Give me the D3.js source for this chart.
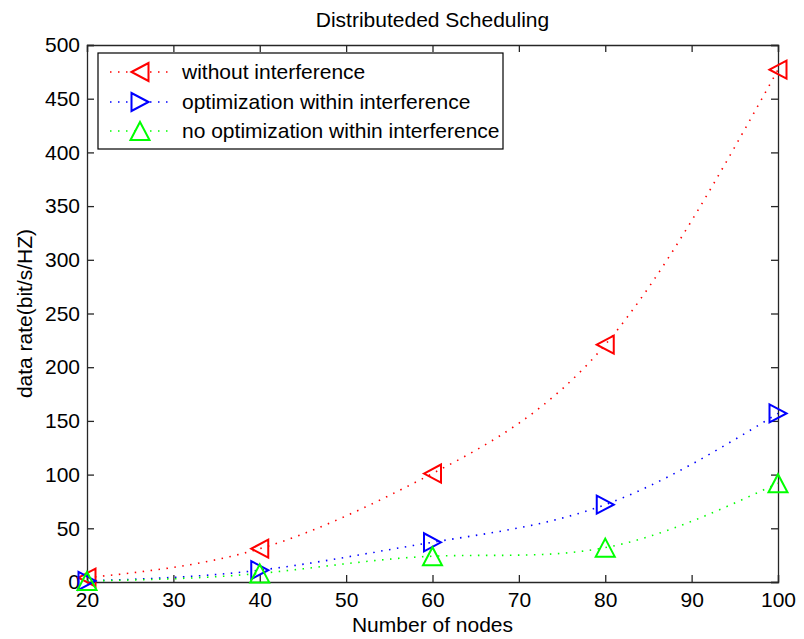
<!DOCTYPE html>
<html><head><meta charset="utf-8">
<script src="https://cdn.jsdelivr.net/npm/d3@7"></script>
<style>
body{margin:0;background:#fff;}
text{font-family:"Liberation Sans",Arial,sans-serif;fill:#000;}
</style></head>
<body><svg id="c" width="804" height="639"></svg>
<script>
const nodes = [20, 40, 60, 80, 100];
const withoutInterference = [4, 31, 101, 221, 477];
const optimizationWithin = [1, 11, 37, 72, 157];
const noOptimizationWithin = [1, 8, 24, 32, 92];
const seriesNames = ["without interference", "optimization within interference", "no optimization within interference"];
const seriesColors = ["#ff0000", "#0000ff", "#00ff00"];
const seriesMarkers = ["left", "right", "up"];
const xTicks = [20, 30, 40, 50, 60, 70, 80, 90, 100];
const yTicks = [0, 50, 100, 150, 200, 250, 300, 350, 400, 450, 500];
const titleText = "Distributeded Scheduling";
const xLabel = "Number of nodes";
const yLabel = "data rate(bit/s/HZ)";

const allSeries = [withoutInterference, optimizationWithin, noOptimizationWithin];
const svg = d3.select("#c");
const L = 87, R = 778, T = 45, B = 582;
const x = d3.scaleLinear().domain([20, 100]).range([L, R]);
const y = d3.scaleLinear().domain([0, 500]).range([B, T]);
const FS = 21;

function markerPath(type) {
  const w = 17, h = 18;
  if (type === "left") return `M${-w/2},0L${w/2},${-h/2}L${w/2},${h/2}Z`;
  if (type === "right") return `M${w/2},0L${-w/2},${-h/2}L${-w/2},${h/2}Z`;
  return `M0,${-h/2}L${w/2+1},${h/2}L${-w/2-1},${h/2}Z`;
}

// axes
const axG = svg.append("g");
const axBottom = d3.axisBottom(x).tickValues(xTicks).tickSize(-7).tickPadding(10).tickFormat(d3.format("d"));
const axTop = d3.axisTop(x).tickValues(xTicks).tickSize(-7).tickFormat("");
const axLeft = d3.axisLeft(y).tickValues(yTicks).tickSize(-7).tickPadding(7).tickFormat(d3.format("d"));
const axRight = d3.axisRight(y).tickValues(yTicks).tickSize(-7).tickFormat("");
[[axBottom, `translate(0,${B})`], [axTop, `translate(0,${T})`], [axLeft, `translate(${L},0)`], [axRight, `translate(${R},0)`]].forEach(([a, t]) => {
  const g = axG.append("g").attr("transform", t).call(a);
  g.select(".domain").attr("stroke", "#262626").attr("stroke-width", 1.3);
  g.selectAll(".tick line").attr("stroke", "#262626").attr("stroke-width", 1.3);
  g.selectAll("text").attr("font-size", FS).attr("font-family", "Liberation Sans, Arial, sans-serif").attr("fill", "#000");
});

// lines
const line = d3.line().x((d, i) => x(nodes[i])).y(d => y(d)).curve(d3.curveNatural);
const plotG = svg.append("g");
allSeries.forEach((s, k) => {
  plotG.append("path").attr("d", line(s)).attr("fill", "none")
    .attr("stroke", seriesColors[k]).attr("stroke-width", 1.6)
    .attr("stroke-dasharray", "1.5,6.5");
});
allSeries.forEach((s, k) => {
  plotG.selectAll(null).data(s).enter().append("path")
    .attr("d", markerPath(seriesMarkers[k]))
    .attr("transform", (d, i) => `translate(${x(nodes[i])},${y(d)})`)
    .attr("fill", "none").attr("stroke", seriesColors[k]).attr("stroke-width", 2);
});

// legend
const lg = svg.append("g");
lg.append("rect").attr("x", 98).attr("y", 53).attr("width", 405).attr("height", 96)
  .attr("fill", "#fff").attr("stroke", "#000").attr("stroke-width", 1.2);
const rowY = [72, 102, 131];
seriesNames.forEach((n, k) => {
  lg.append("line").attr("x1", 110).attr("x2", 170).attr("y1", rowY[k]).attr("y2", rowY[k])
    .attr("stroke", seriesColors[k]).attr("stroke-width", 1.6).attr("stroke-dasharray", "1.5,6.5");
  lg.append("path").attr("d", markerPath(seriesMarkers[k]))
    .attr("transform", `translate(140,${rowY[k]})`)
    .attr("fill", "#fff").attr("stroke", seriesColors[k]).attr("stroke-width", 2);
  lg.append("text").attr("x", 182).attr("y", rowY[k]).attr("dy", "0.35em")
    .attr("font-size", FS).text(n);
});

// titles
svg.append("text").attr("x", (L + R) / 2).attr("y", 27).attr("text-anchor", "middle").attr("font-size", FS).text(titleText);
svg.append("text").attr("x", (L + R) / 2).attr("y", 632).attr("text-anchor", "middle").attr("font-size", FS).text(xLabel);
svg.append("text").attr("transform", `translate(32,${(T + B) / 2}) rotate(-90)`).attr("text-anchor", "middle").attr("font-size", FS).text(yLabel);
</script></body></html>
